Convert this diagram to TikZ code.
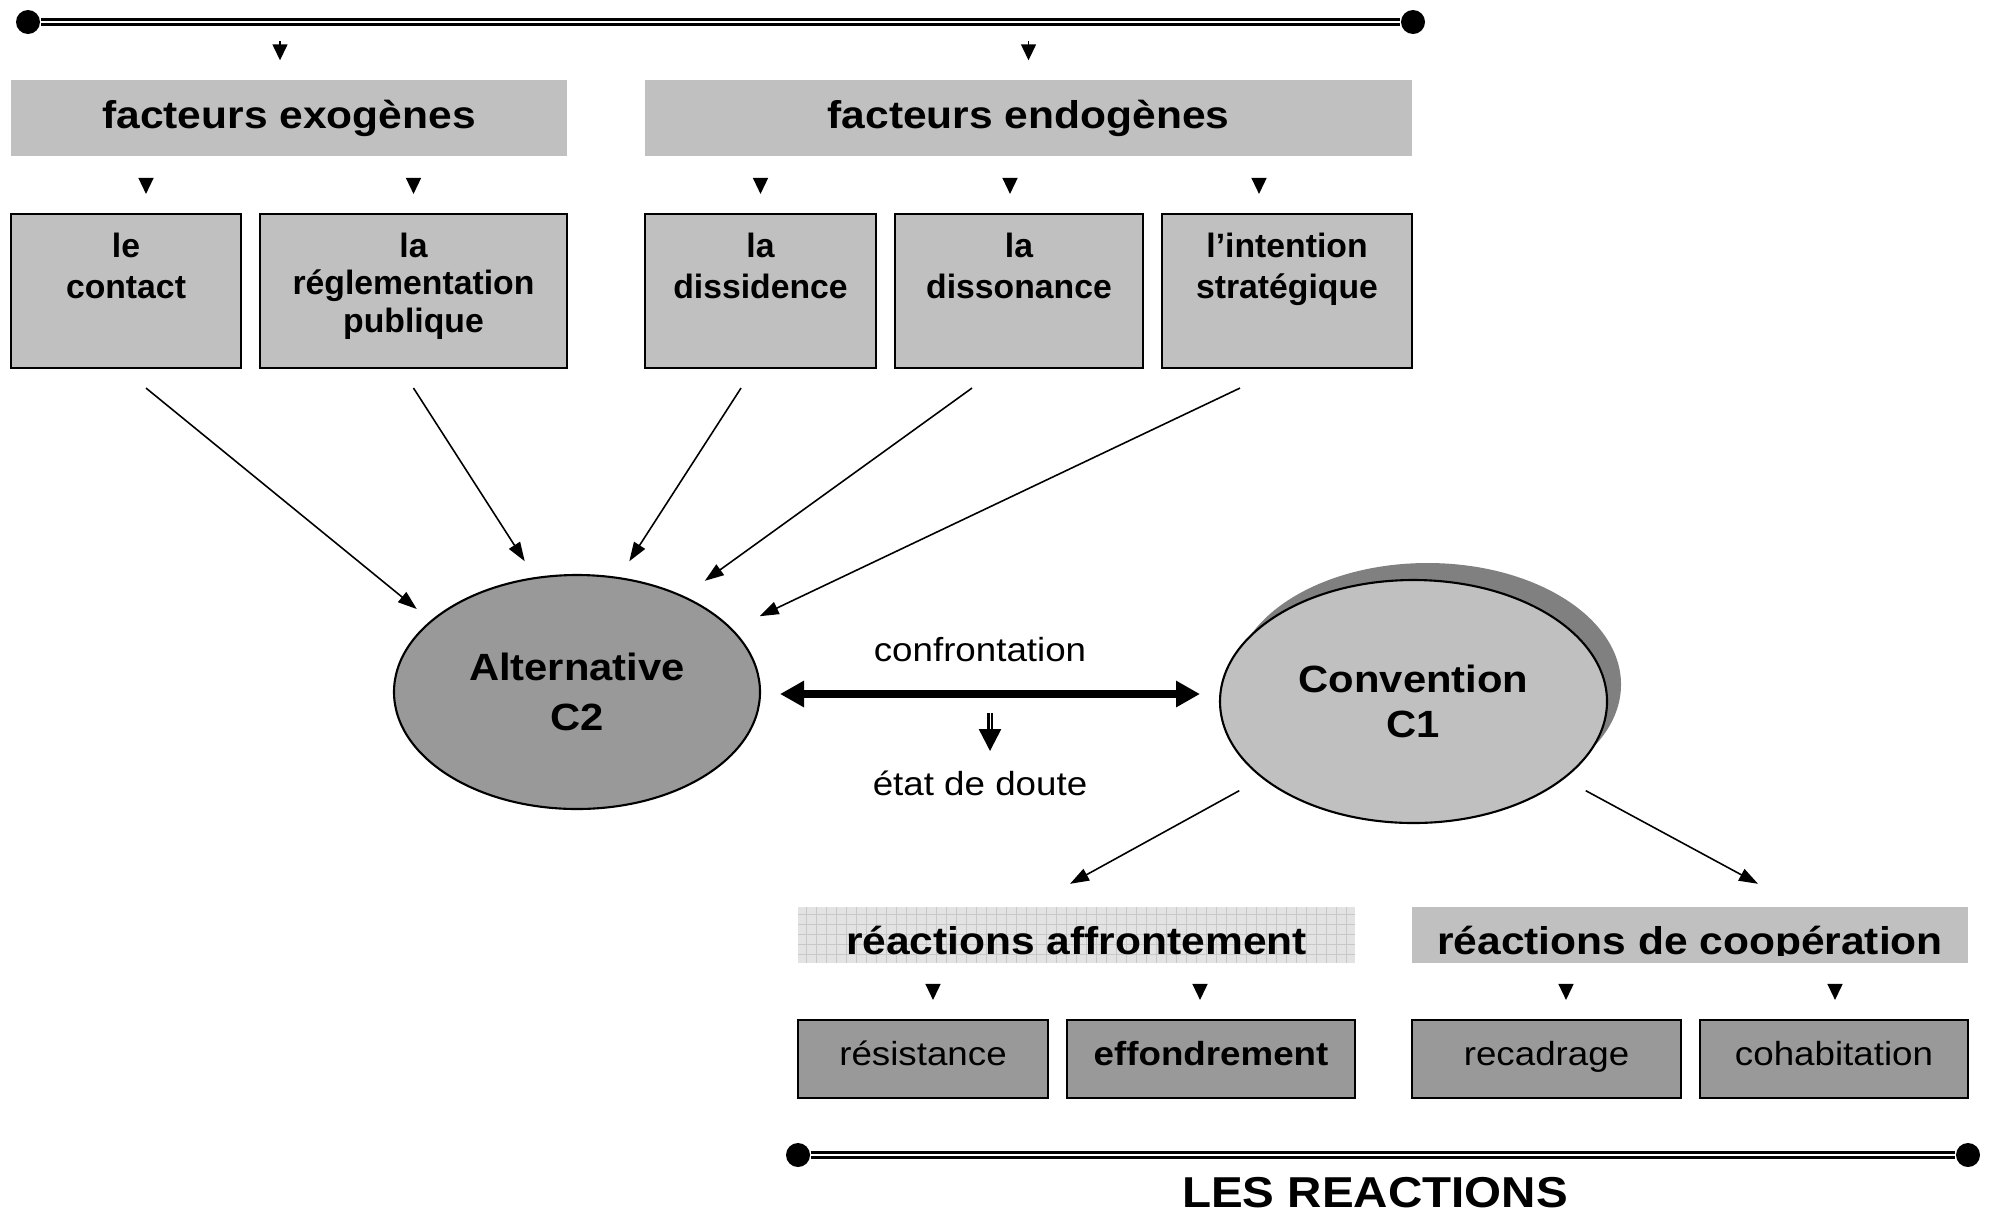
\documentclass[tikz,border=0pt]{standalone}
\usepackage{fontspec}
\setmainfont{Liberation Sans}[FakeStretch=1.1]
\newfontfamily\plainsans{Liberation Sans}
\usetikzlibrary{arrows.meta, shapes.geometric, shadows}
\definecolor{boxgray}{HTML}{C0C0C0}
\definecolor{midgray}{HTML}{999999}
\definecolor{shadowgray}{HTML}{808080}
\definecolor{gridbg}{HTML}{E3E3E3}
\definecolor{gridline}{HTML}{C8C8C8}

\begin{document}
\begin{tikzpicture}[
  hdr/.style={fill=boxgray, minimum height=0.76cm, inner sep=0, font=\fontsize{11}{13}\selectfont\bfseries},
  factor/.style={draw, line width=0.6pt, fill=boxgray, minimum height=1.54cm, inner sep=0},
  factxt/.style={anchor=north, inner sep=0, align=center, font=\plainsans\fontsize{9.6}{10.7}\selectfont\bfseries},
  twoline/.style={font=\plainsans\fontsize{9.6}{11.7}\selectfont\bfseries},
  bubble/.style={ellipse, draw, line width=0.6pt, inner sep=0, outer sep=0, align=center},
  rhdr/.style={minimum height=0.56cm, inner sep=0},
  rhtxt/.style={anchor=base, inner sep=0, font=\fontsize{11}{13}\selectfont\bfseries},
  react/.style={draw, line width=0.6pt, fill=midgray, minimum height=0.78cm, inner sep=0, text height=0.26cm, text depth=0.14cm, font=\fontsize{9.5}{11}\selectfont},
  lbl/.style={inner sep=0, font=\fontsize{9.5}{11}\selectfont},
  small/.style={-{Triangle[length=0.16cm, width=0.15cm]}, line width=0.4pt, shorten <=0.19cm, shorten >=0.19cm},
  diag/.style={-{Triangle[length=0.19cm, width=0.13cm]}, line width=0.45pt},
  bigarr/.style={{Triangle[length=0.24cm, width=0.25cm]}-{Triangle[length=0.24cm, width=0.25cm]}, line width=0.075cm, shorten <=0.2cm, shorten >=0.2cm},
  downarr/.style={-{Triangle[length=0.22cm, width=0.22cm]}, double, line width=0.025cm, double distance=0.01cm},
  dline/.style={double, line width=0.028cm, double distance=0.022cm},
  dot/.style={circle, fill, inner sep=0, minimum size=0.24cm}
]
  \useasboundingbox (0,0) rectangle (19.9,-12.15);

  \node[dot] (tl) at (0.28,-0.22) {};
  \node[dot] (tr) at (14.13,-0.22) {};
  \draw[dline] (tl) -- (tr);

  \node[hdr, minimum width=5.56cm] (exo) at (2.89,-1.18) {facteurs exogènes};
  \node[hdr, minimum width=7.67cm] (endo) at (10.285,-1.18) {facteurs endogènes};
  \draw[small] ([xshift=-0.09cm]tl -| exo.north) -- ([xshift=-0.09cm]exo.north);
  \draw[small] (tl -| endo.north) -- (endo.north);

  \node[factor, minimum width=2.30cm] (contact) at (1.26,-2.91) {};
  \node[factor, minimum width=3.07cm] (regl) at (4.135,-2.91) {};
  \node[factor, minimum width=2.31cm] (dissid) at (7.605,-2.91) {};
  \node[factor, minimum width=2.48cm] (disson) at (10.19,-2.91) {};
  \node[factor, minimum width=2.50cm] (intent) at (12.87,-2.91) {};
  \node[factxt, twoline] (contact-t) at ([yshift=-0.19cm]contact.north) {le\\contact};
  \node[factxt] (regl-t) at ([yshift=-0.19cm]regl.north) {la\\réglementation\\publique};
  \node[factxt, twoline] (dissid-t) at ([yshift=-0.19cm]dissid.north) {la\\dissidence};
  \node[factxt, twoline] (disson-t) at ([yshift=-0.19cm]disson.north) {la\\dissonance};
  \node[factxt, twoline] (intent-t) at ([yshift=-0.19cm]intent.north) {l’intention\\stratégique};

  \draw[small, shorten <=0.22cm] ([xshift=0.2cm]contact.north |- exo.south) -- ([xshift=0.2cm]contact.north);
  \draw[small, shorten <=0.22cm] (regl.north |- exo.south) -- (regl.north);
  \draw[small, shorten <=0.22cm] (dissid.north |- endo.south) -- (dissid.north);
  \draw[small, shorten <=0.22cm] ([xshift=-0.09cm]disson.north |- endo.south) -- ([xshift=-0.09cm]disson.north);
  \draw[small, shorten <=0.22cm] ([xshift=-0.28cm]intent.north |- endo.south) -- ([xshift=-0.28cm]intent.north);

  \node[bubble, fill=midgray, minimum width=3.66cm, minimum height=2.34cm, font=\fontsize{10.8}{14.2}\selectfont\bfseries] (alt) at (5.77,-6.92) {Alternative\\C2};
  \node[bubble, fill=boxgray, minimum width=3.87cm, minimum height=2.43cm, font=\fontsize{10.8}{12.8}\selectfont\bfseries,
    drop shadow={shadow xshift=0.14cm, shadow yshift=0.17cm, fill=shadowgray, opacity=1}] (conv) at (14.135,-7.015) {Convention\\C1};

  \draw[diag, shorten >=0.19cm] ([xshift=0.2cm, yshift=-0.19cm]contact.south) -- (alt.154);
  \draw[diag, shorten >=0.2cm] ([yshift=-0.19cm]regl.south) -- (alt.110);
  \draw[diag, shorten >=0.2cm] ([xshift=-0.195cm, yshift=-0.19cm]dissid.south) -- (alt.70);
  \draw[diag, shorten >=0.27cm] ([xshift=-0.47cm, yshift=-0.19cm]disson.south) -- (alt.42);
  \draw[diag, shorten >=0.31cm] ([xshift=-0.47cm, yshift=-0.19cm]intent.south) -- (alt.22);

  \node[lbl] (confr) at (9.8,-6.50) {confrontation};
  \node[lbl] (doute) at (9.8,-7.83) {état de doute};
  \draw[bigarr] ([yshift=-0.02cm]alt.east) -- ([yshift=-0.02cm]alt.east -| conv.west);
  \draw[downarr] ([xshift=0.1cm, yshift=-0.63cm]confr.center) -- ([xshift=0.1cm, yshift=0.32cm]doute.center);

  \node[rhdr, minimum width=5.57cm, fill=gridbg,
    path picture={\draw[gridline, line width=0.3pt, step=0.1] (path picture bounding box.south west) grid (path picture bounding box.north east);}] (affr) at (10.765,-9.345) {};
  \node[rhdr, minimum width=5.56cm, fill=boxgray] (coop) at (16.9,-9.345) {};
  \begin{scope}
    \clip (7.9,-8.9) rectangle (19.8,-9.555);
    \node[rhtxt] (affr-t) at ([yshift=-0.195cm]affr.center) {réactions affrontement};
    \node[rhtxt] (coop-t) at ([yshift=-0.195cm]coop.center) {réactions de coopération};
  \end{scope}

  \draw[diag] ([xshift=-0.24cm, yshift=-0.126cm]conv.207) -- ([xshift=-0.065cm, yshift=0.22cm]affr.north);
  \draw[diag] ([xshift=0.22cm, yshift=-0.126cm]conv.333) -- ([xshift=0.68cm, yshift=0.22cm]coop.north);

  \node[react, minimum width=2.50cm] (res) at (9.23,-10.59) {résistance};
  \node[react, minimum width=2.88cm, font=\fontsize{9.5}{11}\selectfont\bfseries] (eff) at (12.11,-10.59) {effondrement};
  \node[react, minimum width=2.69cm] (reca) at (15.465,-10.59) {recadrage};
  \node[react, minimum width=2.68cm] (coha) at (18.34,-10.59) {cohabitation};

  \draw[small, shorten <=0.21cm, shorten >=0.19cm] ([xshift=0.1cm]res.north |- affr.south) -- ([xshift=0.1cm]res.north);
  \draw[small, shorten <=0.21cm, shorten >=0.19cm] ([xshift=-0.11cm]eff.north |- affr.south) -- ([xshift=-0.11cm]eff.north);
  \draw[small, shorten <=0.21cm, shorten >=0.19cm] ([xshift=0.195cm]reca.north |- coop.south) -- ([xshift=0.195cm]reca.north);
  \draw[small, shorten <=0.21cm, shorten >=0.19cm] ([xshift=0.01cm]coha.north |- coop.south) -- ([xshift=0.01cm]coha.north);

  \node[dot] (bl) at (7.98,-11.55) {};
  \node[dot] (br) at (19.68,-11.55) {};
  \draw[dline] (bl) -- (br);
  \node[inner sep=0, font=\fontsize{12.3}{14}\selectfont\bfseries] (title) at (13.75,-11.925) {LES REACTIONS};
\end{tikzpicture}
\end{document}
